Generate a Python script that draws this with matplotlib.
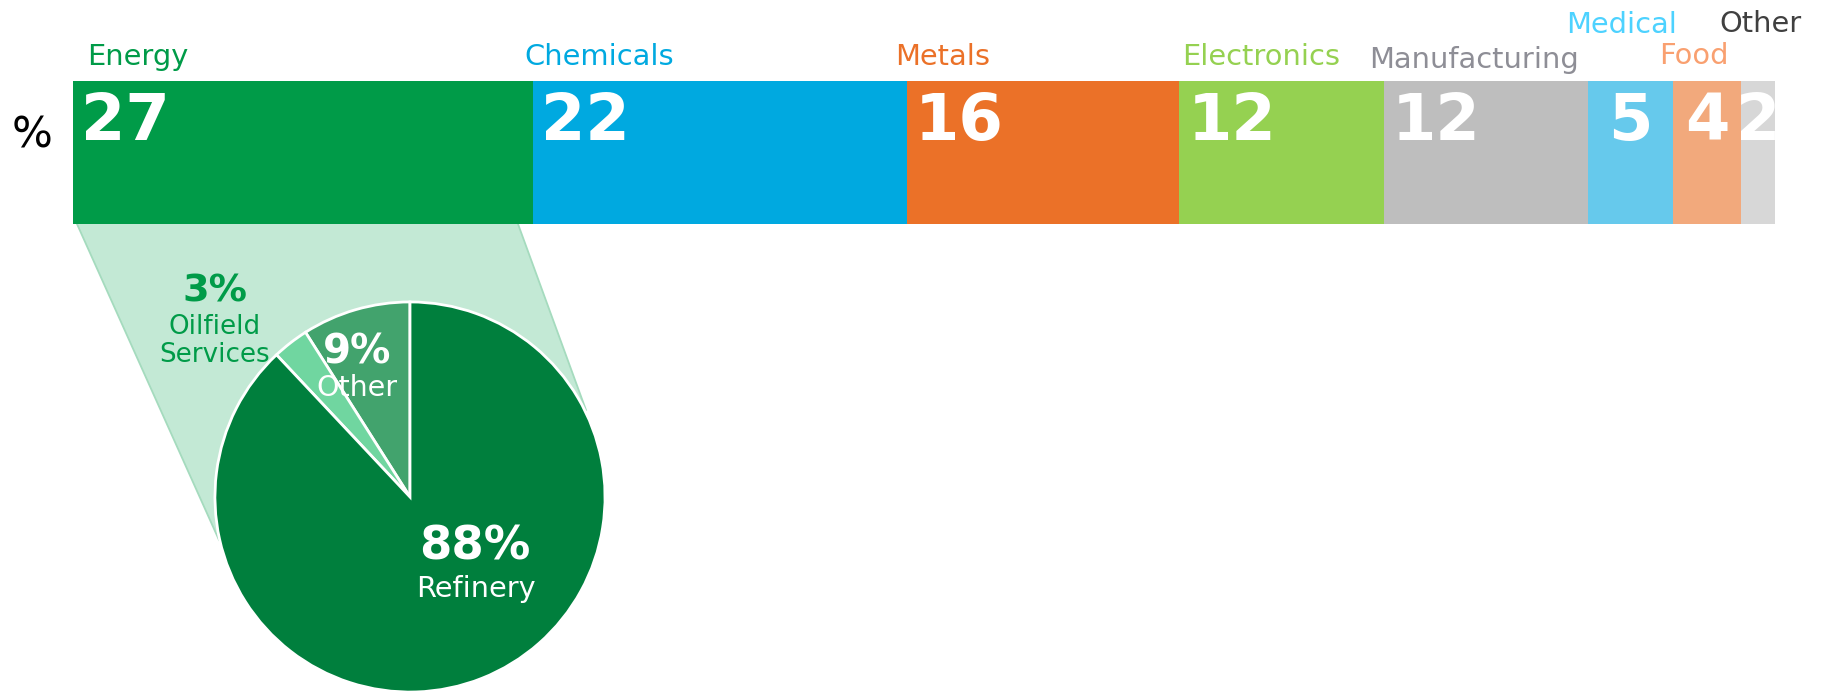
import numpy as np
import matplotlib
matplotlib.use("Agg")
import matplotlib.pyplot as plt
from matplotlib.patches import Polygon

# ---- data ----
sectors = ["Energy", "Chemicals", "Metals", "Electronics", "Manufacturing",
           "Medical", "Food", "Other"]
shares = [27, 22, 16, 12, 12, 5, 4, 2]
bar_colors = ["#009B48", "#00A9E0", "#EB7128", "#95D151", "#BEBEBE",
              "#66C9EC", "#F2A97C", "#D7D7D7"]
label_colors = ["#009B48", "#00A9E0", "#EB7128", "#95D151", "#8E8E96",
                "#4DD2FF", "#F9A070", "#404040"]

energy_parts = ["Other", "Oilfield\nServices", "Refinery"]
energy_shares = [9, 3, 88]
pie_colors = ["#42A36D", "#70D6A0", "#007F3D"]

W, H = 1821, 692
plt.rcParams["font.family"] = ["DejaVu Sans"]
fig = plt.figure(figsize=(W / 100, H / 100), dpi=100)

def px(x, y):
    return x / W, 1 - y / H

# background axes in pixel coords for the zoom wedge
bg = fig.add_axes([0, 0, 1, 1], zorder=0)
bg.set_xlim(0, W)
bg.set_ylim(H, 0)
bg.axis("off")
wedge = [(77, 224), (518, 224), (586, 410), (410, 497), (219, 540)]
bg.add_patch(Polygon(wedge, closed=True, facecolor="#C3E9D5", edgecolor="none"))
bg.plot([77, 219], [224, 540], color="#A5DBBE", lw=1.3)
bg.plot([518, 586], [224, 410], color="#A5DBBE", lw=1.3)

# stacked bar
bar_left, bar_right, bar_top, bar_bot = 73, 1775, 81, 224
ax = fig.add_axes([bar_left / W, (H - bar_bot) / H, (bar_right - bar_left) / W,
                   (bar_bot - bar_top) / H], zorder=2)
lefts = np.cumsum([0] + shares[:-1])
ax.barh(0.5, shares, left=lefts, height=1, color=bar_colors, edgecolor="none")
ax.set_xlim(0, sum(shares))
ax.set_ylim(0, 1)
ax.axis("off")

# label layout (pixels): horizontal shift and height above the bar
label_dx = [14, -8, -12, 3, -14, -22, -14, -22]
label_up = [16, 16, 16, 16, 13, 48, 17, 49]

for i, (name, v, l) in enumerate(zip(sectors, shares, lefts)):
    if v >= 10:
        ax.annotate(str(v), xy=(l, 0.587), xycoords=("data", "axes fraction"),
                    xytext=(8 * 0.72, 0), textcoords="offset points",
                    ha="left", va="baseline", color="white",
                    fontsize=46, fontweight="bold")
    else:
        ax.annotate(str(v), xy=(l + v / 2, 0.587), xycoords=("data", "axes fraction"),
                    ha="center", va="baseline", color="white",
                    fontsize=46, fontweight="bold", annotation_clip=False)
    ax.annotate(name, xy=(l, 1), xycoords=("data", "axes fraction"),
                xytext=(label_dx[i] * 0.72, label_up[i] * 0.72),
                textcoords="offset points", ha="left", va="baseline",
                color=label_colors[i], fontsize=20.8, annotation_clip=False)

fig.text(*px(32, 136), "%", ha="center", va="center", fontsize=31, color="black")

# energy breakdown pie
cx, cy, r = 410, 497, 197
pax = fig.add_axes([(cx - r) / W, (H - cy - r) / H, 2 * r / W, 2 * r / H], zorder=3)
pax.pie(energy_shares, colors=pie_colors, startangle=90, counterclock=True,
        wedgeprops=dict(edgecolor="white", linewidth=2))
pax.set_xlim(-1.01, 1.01)
pax.set_ylim(-1.01, 1.01)
pax.axis("off")

fig.text(*px(475, 547), f"{energy_shares[2]}%", ha="center", va="center",
         fontsize=33.5, fontweight="bold", color="white", zorder=5)
fig.text(*px(476, 589), energy_parts[2], ha="center", va="center",
         fontsize=20.7, color="white", zorder=5)
fig.text(*px(357, 353), f"{energy_shares[0]}%", ha="center", va="center",
         fontsize=29, fontweight="bold", color="white", zorder=5)
fig.text(*px(357, 388), energy_parts[0], ha="center", va="center",
         fontsize=20.5, color="white", zorder=5)
fig.text(*px(215, 291), f"{energy_shares[1]}%", ha="center", va="center",
         fontsize=27.5, fontweight="bold", color="#009B48", zorder=5)
fig.text(*px(215, 341), energy_parts[1], ha="center", va="center",
         fontsize=18.8, color="#009B48", linespacing=1.05, zorder=5)

fig.savefig("out.png", dpi=100)
